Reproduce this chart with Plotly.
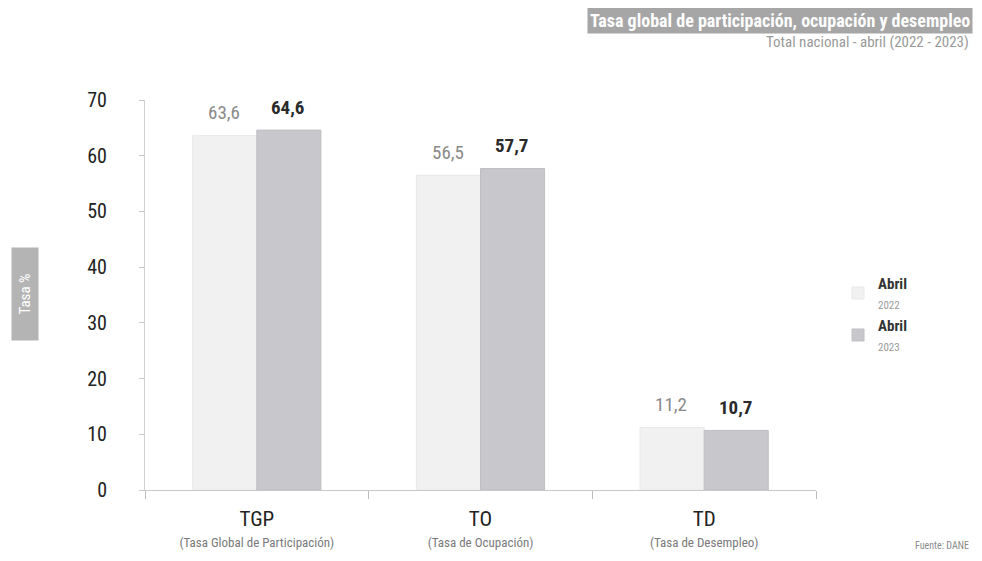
import plotly.graph_objects as go

categories = ["TGP", "TO", "TD"]
category_desc = ["(Tasa Global de Participación)", "(Tasa de Ocupación)", "(Tasa de Desempleo)"]
abril_2022 = [63.6, 56.5, 11.2]
abril_2023 = [64.6, 57.7, 10.7]
y_ticks = [0, 10, 20, 30, 40, 50, 60, 70]

FONT = "Roboto Condensed, Liberation Sans Narrow, Lato, sans-serif"

# page body has an 8px margin: figure drawn from (8,8); keep it inside the window
W, H = 966, 545
L, T = 137, 92
PLOT_W = 816 - 145
PLOT_H = 491 - 101
R = W - L - PLOT_W
B = H - T - PLOT_H


def px(x):  # page x -> paper x
    return (x - 145) / PLOT_W


def py(y):  # page y -> paper y
    return (491 - y) / PLOT_H


fig = go.Figure()
fig.add_trace(go.Bar(
    x=categories, y=abril_2022,
    name="<b>Abril</b><br><span style='color:#9a9a9a;font-size:11px'>2022</span>",
    marker=dict(color="#f1f1f1", line=dict(color="#e8e8e8", width=1)),
))
fig.add_trace(go.Bar(
    x=categories, y=abril_2023,
    name="<b>Abril</b><br><span style='color:#9a9a9a;font-size:11px'>2023</span>",
    marker=dict(color="#c8c8cc", line=dict(color="#bfbfc3", width=1)),
))

ticktext = [f"<span style='font-size:21px'>{c}</span><br><span style='font-size:13px;color:#7a7a7a'>{d}</span>"
            for c, d in zip(categories, category_desc)]

annotations = []
for c, v in zip(categories, abril_2022):
    annotations.append(dict(x=c, y=v, xref="x", yref="y", xshift=-33, yshift=23,
                            text=f"{v:.1f}".replace(".", ","), showarrow=False,
                            xanchor="center", yanchor="middle",
                            font=dict(size=19, color="#8a8a8a", family=FONT)))
for c, v in zip(categories, abril_2023):
    annotations.append(dict(x=c, y=v, xref="x", yref="y", xshift=31, yshift=23,
                            text=f"<b>{v:.1f}</b>".replace(".", ","), showarrow=False,
                            xanchor="center", yanchor="middle",
                            font=dict(size=19, color="#2a2a2a", family=FONT)))

annotations += [
    dict(text="<b>Tasa global de participación, ocupación y desempleo</b>",
         xref="paper", yref="paper", x=px(973), y=py(8), xanchor="right", yanchor="top",
         showarrow=False, bgcolor="#a6a6a6", borderpad=2,
         font=dict(size=18, color="white", family=FONT)),
    dict(text="Total nacional - abril (2022 - 2023)",
         xref="paper", yref="paper", x=px(971), y=py(43), xanchor="right", yanchor="middle",
         showarrow=False, font=dict(size=15, color="#9a9a9a", family=FONT)),
    dict(text="Tasa %", xref="paper", yref="paper", x=px(25), y=py(295),
         xanchor="center", yanchor="middle", textangle=-90, showarrow=False,
         bgcolor="#b4b4b4", borderpad=3, width=86, height=20,
         font=dict(size=15, color="white", family=FONT)),
    dict(text="Fuente: DANE", xref="paper", yref="paper", x=px(971), y=py(546),
         xanchor="right", yanchor="middle", showarrow=False,
         font=dict(size=10, color="#8a8a8a", family=FONT)),
]

fig.update_layout(
    width=W, height=H,
    margin=dict(l=L, r=R, t=T, b=B),
    paper_bgcolor="white", plot_bgcolor="white",
    barmode="group", bargap=0.427, bargroupgap=0.0,
    font=dict(family=FONT, color="#333333"),
    showlegend=True,
    legend=dict(x=px(838), y=py(268), xanchor="left", yanchor="top",
                font=dict(size=15, color="#333333", family=FONT),
                tracegroupgap=14, bgcolor="rgba(0,0,0,0)"),
    xaxis=dict(
        tickmode="array", tickvals=categories, ticktext=ticktext,
        tickson="boundaries", ticks="outside", ticklen=8, tickcolor="#bdbdbd",
        showline=True, linecolor="#c8c8c8", linewidth=1,
        tickfont=dict(size=16, color="#222222", family=FONT),
        showgrid=False, automargin=False, ticklabelstandoff=16,
    ),
    yaxis=dict(
        range=[0, 70], tickvals=y_ticks, ticks="outside", ticklen=5,
        tickcolor="#c8c8c8", showline=True, linecolor="#d0d0d0", linewidth=1,
        showgrid=False, zeroline=False, automargin=False,
        tickfont=dict(size=20, color="#222222", family=FONT),
        ticklabelstandoff=28,
    ),
    annotations=annotations,
)

fig.write_html("out.html")
